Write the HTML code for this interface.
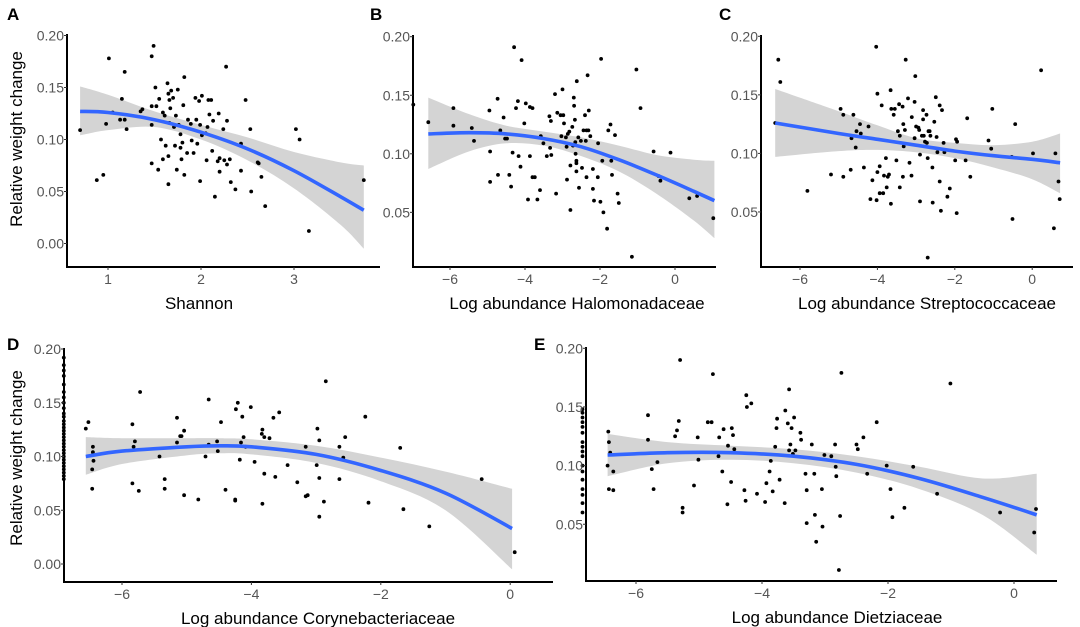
<!DOCTYPE html>
<html><head><meta charset="utf-8"><style>
html,body{margin:0;padding:0;background:#fff;}
svg{display:block;font-family:"Liberation Sans",Arial,sans-serif;}
</style></head><body>
<svg id="fig" width="1080" height="627" viewBox="0 0 1080 627" xmlns="http://www.w3.org/2000/svg"></svg>
<script>
// ---------- Panel A data (Shannon) ----------
const aX=[0.70,0.88,0.95,0.98,1.01,1.05,1.13,1.15,1.18,1.18,1.20,1.35,1.37,1.47,1.47,1.47,1.47,1.49,1.51,1.52,1.54,1.55,1.57,1.59,1.59,1.61,1.62,1.64,1.65,1.65,1.65,1.66,1.66,1.67,1.68,1.70,1.71,1.72,1.73,1.74,1.75,1.76,1.78,1.78,1.79,1.80,1.81,1.82,1.82,1.85,1.86,1.89,1.90,1.92,1.94,1.95,1.96,1.98,1.99,1.99,2.01,2.01,2.05,2.06,2.07,2.08,2.09,2.11,2.12,2.13,2.15,2.18,2.19,2.20,2.20,2.24,2.25,2.27,2.28,2.28,2.31,2.32,2.37,2.43,2.43,2.48,2.53,2.54,2.61,2.62,2.65,2.69,3.02,3.06,3.16,3.75];
const aY=[0.109,0.061,0.066,0.115,0.178,0.126,0.119,0.139,0.165,0.119,0.110,0.127,0.129,0.180,0.114,0.077,0.132,0.190,0.150,0.132,0.071,0.139,0.100,0.126,0.081,0.123,0.094,0.154,0.144,0.057,0.084,0.138,0.116,0.130,0.147,0.140,0.112,0.094,0.123,0.071,0.148,0.114,0.105,0.092,0.081,0.097,0.133,0.160,0.066,0.087,0.119,0.115,0.099,0.087,0.140,0.119,0.096,0.137,0.060,0.114,0.142,0.104,0.106,0.080,0.112,0.138,0.124,0.138,0.089,0.118,0.045,0.079,0.125,0.082,0.069,0.110,0.080,0.170,0.118,0.076,0.081,0.059,0.052,0.070,0.096,0.138,0.110,0.050,0.078,0.077,0.064,0.036,0.110,0.100,0.012,0.061];
const aFitX=[0.7,1.0,1.5,2.0,2.5,3.0,3.5,3.75];
const aFit=[0.127,0.126,0.119,0.107,0.091,0.070,0.045,0.032];
const aLo=[0.104,0.109,0.112,0.100,0.080,0.053,0.018,-0.005];
const aHi=[0.151,0.143,0.127,0.114,0.102,0.088,0.078,0.075];
const aTicksX=[1,2,3];
const aTicksY=[0.00,0.05,0.10,0.15,0.20];

// ---------- Panel B data (Halomonadaceae) ----------
const bX=[-6.98,-6.58,-5.91,-5.91,-5.42,-5.36,-4.95,-4.93,-4.93,-4.73,-4.72,-4.66,-4.57,-4.53,-4.48,-4.42,-4.37,-4.33,-4.29,-4.24,-4.19,-4.17,-4.12,-4.09,-4.02,-3.98,-3.92,-3.87,-3.87,-3.80,-3.80,-3.74,-3.67,-3.60,-3.58,-3.51,-3.42,-3.35,-3.33,-3.31,-3.30,-3.20,-3.17,-3.14,-3.05,-3.03,-3.00,-2.98,-2.96,-2.91,-2.89,-2.88,-2.86,-2.82,-2.79,-2.79,-2.74,-2.72,-2.70,-2.69,-2.67,-2.66,-2.65,-2.63,-2.63,-2.63,-2.62,-2.58,-2.56,-2.51,-2.48,-2.44,-2.40,-2.38,-2.36,-2.36,-2.33,-2.31,-2.30,-2.26,-2.19,-2.19,-2.16,-2.06,-2.05,-1.99,-1.97,-1.94,-1.91,-1.81,-1.78,-1.72,-1.70,-1.68,-1.60,-1.53,-1.50,-1.15,-1.03,-0.92,-0.57,-0.44,-0.39,-0.12,0.38,0.59,1.02];
const bY=[0.142,0.127,0.139,0.124,0.122,0.111,0.137,0.102,0.076,0.147,0.082,0.120,0.131,0.113,0.113,0.082,0.072,0.101,0.191,0.139,0.145,0.098,0.089,0.180,0.126,0.143,0.061,0.098,0.140,0.139,0.080,0.080,0.061,0.069,0.115,0.109,0.098,0.132,0.105,0.128,0.099,0.151,0.066,0.135,0.133,0.115,0.155,0.133,0.126,0.114,0.106,0.078,0.117,0.119,0.090,0.052,0.123,0.107,0.148,0.141,0.129,0.110,0.100,0.094,0.092,0.085,0.162,0.114,0.071,0.111,0.088,0.120,0.133,0.111,0.120,0.080,0.167,0.120,0.137,0.115,0.070,0.087,0.060,0.080,0.109,0.059,0.181,0.094,0.050,0.036,0.120,0.125,0.094,0.082,0.116,0.066,0.058,0.012,0.172,0.139,0.102,0.081,0.077,0.101,0.062,0.064,0.045];
const bFitX=[-6.58,-5.5,-4.5,-3.5,-2.5,-1.5,-0.5,0.5,1.05];
const bFit=[0.117,0.118,0.117,0.113,0.106,0.095,0.082,0.068,0.060];
const bLo=[0.087,0.102,0.109,0.107,0.098,0.085,0.066,0.043,0.028];
const bHi=[0.148,0.134,0.124,0.119,0.114,0.107,0.099,0.095,0.094];
const bTicksX=[-6,-4,-2,0];
const bTicksY=[0.05,0.10,0.15,0.20];

// ---------- Panel C data (Streptococcaceae) ----------
const cX=[-6.64,-6.56,-6.51,-5.81,-5.20,-4.95,-4.88,-4.88,-4.69,-4.67,-4.62,-4.56,-4.54,-4.45,-4.43,-4.35,-4.23,-4.18,-4.13,-4.03,-4.02,-4.00,-4.00,-3.94,-3.94,-3.89,-3.85,-3.83,-3.78,-3.76,-3.73,-3.70,-3.66,-3.65,-3.64,-3.58,-3.55,-3.51,-3.47,-3.44,-3.42,-3.42,-3.35,-3.34,-3.33,-3.32,-3.29,-3.27,-3.21,-3.17,-3.12,-3.11,-3.04,-3.04,-3.02,-3.00,-2.94,-2.92,-2.90,-2.90,-2.85,-2.82,-2.82,-2.80,-2.77,-2.73,-2.72,-2.70,-2.70,-2.68,-2.65,-2.63,-2.58,-2.57,-2.53,-2.49,-2.47,-2.45,-2.39,-2.39,-2.36,-2.33,-2.29,-2.27,-2.19,-2.13,-1.99,-1.97,-1.95,-1.94,-1.72,-1.68,-1.60,-1.13,-1.06,-1.03,-0.53,-0.51,-0.44,0.02,0.23,0.56,0.60,0.68,0.71];
const cY=[0.126,0.180,0.161,0.068,0.082,0.138,0.133,0.080,0.086,0.113,0.133,0.105,0.119,0.125,0.117,0.088,0.123,0.061,0.077,0.191,0.060,0.151,0.084,0.089,0.066,0.141,0.066,0.081,0.096,0.071,0.080,0.082,0.154,0.057,0.138,0.133,0.138,0.094,0.119,0.142,0.115,0.071,0.140,0.080,0.125,0.106,0.120,0.180,0.147,0.092,0.081,0.131,0.113,0.144,0.166,0.123,0.122,0.120,0.059,0.099,0.115,0.137,0.129,0.115,0.110,0.133,0.109,0.011,0.096,0.119,0.119,0.115,0.088,0.058,0.127,0.148,0.114,0.101,0.141,0.076,0.051,0.137,0.109,0.101,0.063,0.070,0.094,0.112,0.049,0.110,0.094,0.130,0.080,0.111,0.104,0.138,0.097,0.044,0.125,0.100,0.171,0.036,0.100,0.076,0.061];
const cFitX=[-6.64,-5,-4,-3,-2,-1,0,0.72];
const cFit=[0.126,0.117,0.112,0.107,0.102,0.098,0.095,0.092];
const cLo=[0.097,0.102,0.103,0.101,0.096,0.088,0.078,0.066];
const cHi=[0.155,0.136,0.124,0.113,0.109,0.107,0.110,0.117];
const cTicksX=[-6,-4,-2,0];
const cTicksY=[0.05,0.10,0.15,0.20];

// ---------- Panel D data (Corynebacteriaceae) ----------
const dX=[-6.9,-6.9,-6.9,-6.9,-6.9,-6.9,-6.9,-6.9,-6.9,-6.9,-6.9,-6.9,-6.9,-6.9,-6.9,-6.9,-6.9,-6.9,-6.9,-6.9,-6.9,-6.9,-6.9,-6.9,-6.9,-6.9,-6.9,-6.9,-6.9,-6.9,
-6.56,-6.52,-6.46,-6.45,-6.45,-6.44,-6.46,-5.84,-5.82,-5.80,-5.84,-5.74,-5.72,-5.42,-5.34,-5.34,-5.15,-5.15,-5.10,-5.08,-5.04,-5.04,-4.82,-4.71,-4.66,-4.66,-4.53,-4.52,-4.47,-4.40,-4.25,-4.25,-4.24,-4.21,-4.18,-4.16,-4.14,-4.12,-4.09,-4.01,-3.95,-3.84,-3.83,-3.83,-3.80,-3.80,-3.72,-3.66,-3.63,-3.57,-3.44,-3.29,-3.16,-3.16,-3.13,-2.99,-2.98,-2.95,-2.95,-2.95,-2.88,-2.85,-2.64,-2.64,-2.58,-2.55,-2.24,-2.19,-1.70,-1.65,-1.25,-0.44,0.07];
const dY=[0.192,0.185,0.180,0.175,0.167,0.160,0.155,0.150,0.145,0.140,0.137,0.133,0.130,0.127,0.124,0.121,0.118,0.115,0.112,0.109,0.106,0.103,0.100,0.097,0.094,0.091,0.088,0.085,0.082,0.079,
0.126,0.132,0.088,0.109,0.104,0.096,0.070,0.130,0.109,0.114,0.075,0.068,0.160,0.100,0.079,0.070,0.136,0.113,0.119,0.119,0.124,0.064,0.060,0.100,0.111,0.153,0.114,0.105,0.132,0.069,0.060,0.059,0.144,0.150,0.097,0.113,0.137,0.118,0.109,0.146,0.095,0.121,0.125,0.056,0.084,0.118,0.117,0.136,0.081,0.141,0.092,0.076,0.109,0.063,0.064,0.092,0.126,0.115,0.080,0.044,0.058,0.170,0.109,0.079,0.099,0.118,0.137,0.057,0.108,0.051,0.035,0.079,0.011];
const dFitX=[-6.56,-6,-5,-4.5,-4,-3,-2,-1,0.03];
const dFit=[0.100,0.105,0.109,0.110,0.109,0.102,0.087,0.066,0.033];
const dLo=[0.083,0.093,0.101,0.103,0.102,0.094,0.077,0.050,-0.005];
const dHi=[0.118,0.117,0.117,0.117,0.116,0.110,0.099,0.086,0.070];
const dTicksX=[-6,-4,-2,0];
const dTicksY=[0.00,0.05,0.10,0.15,0.20];

// ---------- Panel E data (Dietziaceae) ----------
const eX=[-6.85,-6.85,-6.85,-6.85,-6.85,-6.85,-6.85,-6.85,-6.85,-6.85,-6.85,-6.85,-6.85,-6.85,-6.85,-6.85,-6.85,
-6.45,-6.44,-6.43,-6.41,-6.43,-6.36,-6.36,-5.81,-5.81,-5.75,-5.72,-5.66,-5.38,-5.35,-5.32,-5.30,-5.26,-5.26,-5.08,-5.02,-5.01,-4.86,-4.80,-4.78,-4.69,-4.68,-4.63,-4.61,-4.55,-4.54,-4.49,-4.48,-4.46,-4.44,-4.28,-4.26,-4.25,-4.24,-4.17,-4.08,-3.95,-3.93,-3.88,-3.86,-3.83,-3.79,-3.77,-3.76,-3.72,-3.64,-3.63,-3.59,-3.57,-3.57,-3.55,-3.53,-3.51,-3.49,-3.47,-3.39,-3.38,-3.31,-3.29,-3.29,-3.21,-3.17,-3.16,-3.14,-3.05,-3.04,-3.01,-2.90,-2.84,-2.83,-2.82,-2.78,-2.76,-2.74,-2.50,-2.48,-2.39,-2.33,-2.18,-2.02,-1.96,-1.93,-1.74,-1.60,-1.22,-1.01,-0.22,0.32,0.35];
const eY=[0.148,0.145,0.141,0.137,0.133,0.128,0.120,0.116,0.112,0.108,0.100,0.095,0.088,0.080,0.075,0.068,0.060,
0.100,0.129,0.120,0.111,0.080,0.079,0.095,0.143,0.122,0.097,0.080,0.103,0.125,0.130,0.138,0.190,0.064,0.060,0.083,0.124,0.105,0.137,0.137,0.178,0.108,0.124,0.095,0.131,0.067,0.117,0.086,0.132,0.126,0.114,0.079,0.070,0.160,0.150,0.153,0.076,0.069,0.085,0.095,0.104,0.078,0.116,0.132,0.140,0.088,0.068,0.147,0.136,0.165,0.113,0.118,0.132,0.110,0.141,0.113,0.128,0.122,0.093,0.079,0.051,0.118,0.093,0.058,0.035,0.080,0.048,0.109,0.108,0.118,0.099,0.091,0.011,0.057,0.179,0.118,0.114,0.124,0.093,0.137,0.100,0.080,0.056,0.064,0.099,0.076,0.170,0.060,0.043,0.063];
const eFitX=[-6.45,-5.5,-4.5,-3.5,-2.5,-1.5,-0.5,0.36];
const eFit=[0.109,0.111,0.111,0.108,0.101,0.089,0.073,0.058];
const eLo=[0.091,0.102,0.105,0.102,0.094,0.080,0.058,0.024];
const eHi=[0.127,0.120,0.117,0.114,0.108,0.099,0.089,0.093];
const eTicksX=[-6,-4,-2,0];
const eTicksY=[0.05,0.10,0.15,0.20];

const NS="http://www.w3.org/2000/svg";
const svg=document.getElementById('fig');
function el(tag,attrs,parent){const e=document.createElementNS(NS,tag);for(const k in attrs)e.setAttribute(k,attrs[k]);(parent||svg).appendChild(e);return e;}
function smooth(pts){
  let d='M'+pts[0][0].toFixed(1)+','+pts[0][1].toFixed(1);
  for(let i=0;i<pts.length-1;i++){
    const p0=pts[Math.max(0,i-1)],p1=pts[i],p2=pts[i+1],p3=pts[Math.min(pts.length-1,i+2)];
    const c1=[p1[0]+(p2[0]-p0[0])/6,p1[1]+(p2[1]-p0[1])/6];
    const c2=[p2[0]-(p3[0]-p1[0])/6,p2[1]-(p3[1]-p1[1])/6];
    d+=' C'+c1[0].toFixed(1)+','+c1[1].toFixed(1)+' '+c2[0].toFixed(1)+','+c2[1].toFixed(1)+' '+p2[0].toFixed(1)+','+p2[1].toFixed(1);
  }
  return d;
}
function smoothCont(pts){return smooth(pts).replace(/^M/,'L');}

function panel(cfg){
  const g=el('g',{});
  
  
  const xs=v=>cfg.x0+(v-cfg.xv0)*cfg.xk;
  const ys=v=>cfg.y0+(cfg.yv0-v)*cfg.yk;
  // band
  const up=cfg.fitX.map((x,i)=>[xs(x),ys(cfg.hi[i])]);
  const lo=cfg.fitX.map((x,i)=>[xs(x),ys(cfg.lo[i])]).reverse();
  const band=el('path',{d:smooth(up)+' '+smoothCont(lo)+' Z',fill:'#d4d4d4',stroke:'none'},g);
  
  
  // points
  const pg=el('g',{},g);
  
  
  cfg.px.forEach((x,i)=>{
    const c=el('circle',{cx:xs(x).toFixed(1),cy:ys(cfg.py[i]).toFixed(1),r:1.9,fill:'#000'},pg);
    
    
  });
  // fit
  const fl=el('path',{d:smooth(cfg.fitX.map((x,i)=>[xs(x),ys(cfg.fit[i])])),fill:'none',stroke:'#3366ff','stroke-width':3.6},g);
  
  
  // axes
  const ya=el('line',{x1:cfg.ax,y1:cfg.axTop,x2:cfg.ax,y2:cfg.ay,stroke:'#000','stroke-width':2},g);
  
  
  const xa=el('line',{x1:cfg.ax-1,y1:cfg.ay,x2:cfg.axRight,y2:cfg.ay,stroke:'#000','stroke-width':2},g);
  
  
  cfg.ty.forEach(v=>{
    el('line',{x1:cfg.ax-3,x2:cfg.ax,y1:ys(v),y2:ys(v),stroke:'#333','stroke-width':1},g);
    const t=el('text',{x:cfg.ax-3,y:ys(v)+5,'text-anchor':'end','font-size':14,fill:'#555'},g);
    t.textContent=v.toFixed(2);
    
    
  });
  cfg.tx.forEach(v=>{
    el('line',{x1:xs(v),x2:xs(v),y1:cfg.ay,y2:cfg.ay+3,stroke:'#333','stroke-width':1},g);
    const t=el('text',{x:xs(v),y:cfg.ay+17,'text-anchor':'middle','font-size':14,fill:'#555'},g);
    t.textContent=(v<0?'\u2212'+(-v):String(v));
    
    
  });
  const xt=el('text',{x:cfg.titleX,y:cfg.ay+42,'text-anchor':'middle','font-size':17,fill:'#000'},g);
  xt.textContent=cfg.xtitle;
  
  
  const lt=el('text',{x:cfg.lx,y:cfg.ly,'font-size':17,'font-weight':'bold',fill:'#000'},g);
  lt.textContent=cfg.letter;
  
  
  if(cfg.ytitle){
    const yt=el('text',{transform:'translate(22,'+cfg.ytY+') rotate(-90)','text-anchor':'middle','font-size':17,fill:'#000'},g);
    yt.textContent='Relative weight change';
    
    
  }
}

panel({name:'panel-a-shannon',letter:'A',lx:7,ly:20,px:aX,py:aY,fitX:aFitX,fit:aFit,lo:aLo,hi:aHi,tx:aTicksX,ty:aTicksY,
  x0:108,xv0:1,xk:93,y0:243.5,yv0:0,yk:1040,ax:67,axTop:34,ay:267,axRight:380,titleX:199,xtitle:'Shannon',ytitle:true,ytY:139});
panel({name:'panel-b-halomonadaceae',letter:'B',lx:370,ly:20,px:bX,py:bY,fitX:bFitX,fit:bFit,lo:bLo,hi:bHi,tx:bTicksX,ty:bTicksY,
  x0:450,xv0:-6,xk:37.5,y0:36.7,yv0:0.2,yk:1171,ax:413,axTop:35,ay:267,axRight:716,titleX:577,xtitle:'Log abundance Halomonadaceae'});
panel({name:'panel-c-streptococcaceae',letter:'C',lx:719,ly:20,px:cX,py:cY,fitX:cFitX,fit:cFit,lo:cLo,hi:cHi,tx:cTicksX,ty:cTicksY,
  x0:800,xv0:-6,xk:38.7,y0:36.3,yv0:0.2,yk:1171,ax:761,axTop:35,ay:267,axRight:1073,titleX:927,xtitle:'Log abundance Streptococcaceae'});
panel({name:'panel-d-corynebacteriaceae',letter:'D',lx:7,ly:350,px:dX,py:dY,fitX:dFitX,fit:dFit,lo:dLo,hi:dHi,tx:dTicksX,ty:dTicksY,
  x0:122,xv0:-6,xk:64.7,y0:564,yv0:0,yk:1075,ax:64,axTop:348,ay:582,axRight:553,titleX:318,xtitle:'Log abundance Corynebacteriaceae',ytitle:true,ytY:458});
panel({name:'panel-e-dietziaceae',letter:'E',lx:534,ly:350,px:eX,py:eY,fitX:eFitX,fit:eFit,lo:eLo,hi:eHi,tx:eTicksX,ty:eTicksY,
  x0:636,xv0:-6,xk:63,y0:348.3,yv0:0.2,yk:1173,ax:586,axTop:347,ay:581,axRight:1057,titleX:837,xtitle:'Log abundance Dietziaceae'});
</script>
</body></html>
